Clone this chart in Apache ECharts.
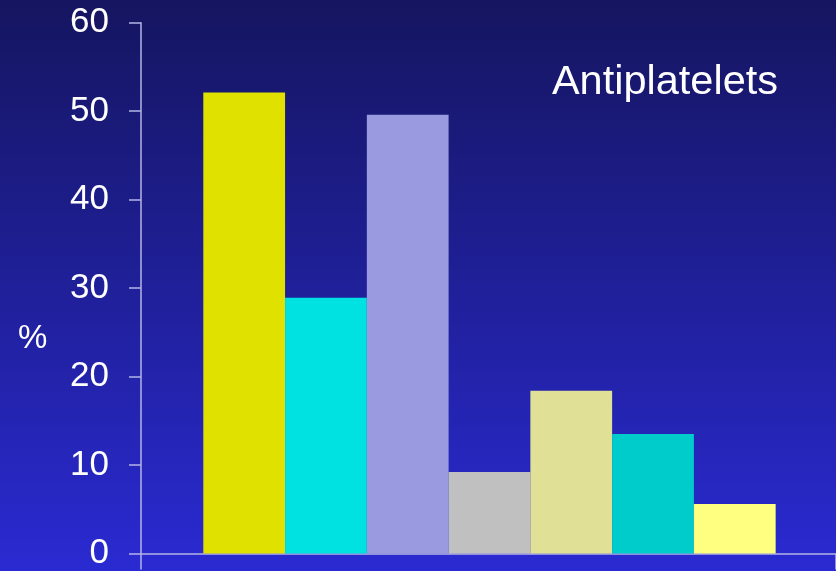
<!DOCTYPE html>
<html><head><meta charset="utf-8">
<script src="https://cdn.jsdelivr.net/npm/echarts@6/dist/echarts.min.js"></script>
<style>html,body{margin:0;padding:0;}#c{width:836px;height:571px;}</style>
</head><body><div id="c"></div>
<script>
var categories = ['A','B','C','D','E','F','G'];
var values = [52.1, 28.9, 49.6, 9.2, 18.4, 13.5, 5.6];
var barColors = ['#e1e100','#00e1e1','#9a9ae0','#c0c0c0','#e0e096','#00cccc','#ffff80'];
var yTicks = [0,10,20,30,40,50,60];
var titleText = 'Antiplatelets';
var unitText = '%';

var chart = echarts.init(document.getElementById('c'));
var axisColor = '#b4b4e6';
chart.setOption({
  animation: false,
  backgroundColor: new echarts.graphic.LinearGradient(0,0,0,1,[{offset:0,color:'#151560'},{offset:1,color:'#2a2ad2'}]),
  title: [
    {text: titleText, right: 53, top: 57, textStyle:{color:'#ffffff', fontSize:41.5, fontWeight:'normal', fontFamily:'Liberation Sans, Arial, sans-serif'}},
    {text: unitText, left: 13, top: 317, textStyle:{color:'#ffffff', fontSize:33, fontWeight:'normal', fontFamily:'Liberation Sans, Arial, sans-serif'}}
  ],
  grid: {left: 141, right: 0, top: 22.7, bottom: 15},
  xAxis: {
    type: 'value', min: -1.262, max: 7.238, interval: 100,
    axisLine: {show: true, onZero: false, lineStyle: {color: axisColor, width: 1.5}},
    axisTick: {show: true, length: 16, lineStyle: {color: axisColor, width: 1.5}},
    axisLabel: {show: false}, splitLine: {show: false}
  },
  yAxis: {
    type: 'value', min: yTicks[0], max: yTicks[yTicks.length-1], interval: 10,
    axisLine: {show: true, onZero: false, lineStyle: {color: axisColor, width: 1.5}},
    axisTick: {show: true, inside: false, length: 12, lineStyle: {color: axisColor, width: 1.5}},
    axisLabel: {color: '#ffffff', fontSize: 35, margin: 32, fontFamily: 'Liberation Sans, Arial, sans-serif'},
    splitLine: {show: false}
  },
  series: [{
    type: 'bar', barCategoryGap: 0, barGap: 0,
    data: values.map(function(v,i){return {value:[i, v], itemStyle:{color: barColors[i]}};})
  }]
});
</script></body></html>
